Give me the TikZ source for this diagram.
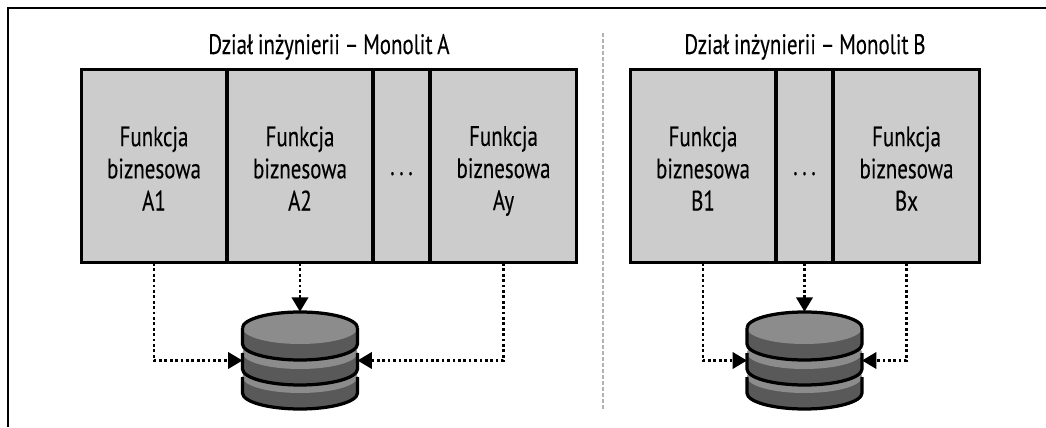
\documentclass[tikz,border=0pt]{standalone}
\usepackage{fontspec}
\setmainfont[FakeStretch=0.745,WordSpace=0.85,FakeBold=0.25]{PT Sans}
\usetikzlibrary{arrows.meta,positioning}
\definecolor{boxgray}{HTML}{CCCCCC}
\definecolor{dblight}{HTML}{8C8C8C}
\definecolor{dbdark}{HTML}{595959}
\newcommand{\funclabel}[1]{\rule{0pt}{0.584cm}Funkcja\\biznesowa\\\rule[-0.1cm]{0pt}{0.1cm}#1}
\newcommand{\funcdots}{\raisebox{-0.175cm}[0pt][0pt]{.\kern2.6pt.\kern2.6pt.}}
\tikzset{
  >={Triangle[length=0.29cm,width=0.33cm]},
  func/.style = {rectangle, draw, line width=0.06cm, fill=boxgray, minimum height=3.87cm,
    inner sep=0pt, outer sep=0pt, align=center, font=\fontsize{16}{18.3}\selectfont},
  head/.style = {anchor=base, inner sep=0pt, font=\fontsize{16}{18.3}\selectfont},
  dbnode/.style = {rectangle, minimum width=2.3cm, minimum height=1.95cm, inner sep=0pt, outer sep=0pt},
  dep/.style = {->, line width=0.055cm, dash pattern=on 0.055cm off 0.053cm},
  dbstack/.pic = {
    \foreach \dy in {-16.5,7.5,32.5} {
      \fill[dbdark] (-57.5,\dy) -- (-57.5,\dy-16) arc[start angle=180, end angle=360, x radius=57.5, y radius=16]
        -- (57.5,\dy) arc[start angle=0, end angle=180, x radius=57.5, y radius=16] -- cycle;
      \fill[dblight] (0,\dy) ellipse[x radius=57.5, y radius=16];
      \draw[line width=0.065cm, line join=round] (-57.5,\dy) -- (-57.5,\dy-16) arc[start angle=180, end angle=360, x radius=57.5, y radius=16]
        -- (57.5,\dy);
    }
    \draw[line width=0.065cm] (-57.5,32.5) arc[start angle=180, end angle=0, x radius=57.5, y radius=16];
  },
}
\begin{document}
\begin{tikzpicture}[x=0.02cm,y=0.02cm]
  \useasboundingbox (0,0) rectangle (1046,427);
  \draw[line width=0.055cm] (1046,419) -- (8,419) -- (8,0);
  \draw[gray!60, line width=0.03cm, dash pattern=on 0.08cm off 0.04cm] (603,394) -- (603,18);

  % monolit A
  \node[head] (headA) at (329,373) {Dział inżynierii – Monolit A};
  \node[func, minimum width=2.92cm] (a1) at (154,260.75) {\funclabel{A1}};
  \node[func, minimum width=2.92cm] (a2) at (300,260.75) {\funclabel{A2}};
  \node[func, minimum width=1.14cm] (adots) at (401.5,260.75) {\funcdots};
  \node[func, minimum width=2.94cm] (ay) at (503.5,260.75) {\funclabel{Ay}};
  \node[dbnode] (dbA) at (300,66.5) {};
  \pic at (dbA) {dbstack};
  \draw[dep] (a1) |- (dbA.west);
  \draw[dep] (a2) -- (dbA.north);
  \draw[dep] (ay) |- (dbA.east);

  % monolit B
  \node[head] (headB) at (805,373) {Dział inżynierii – Monolit B};
  \node[func, minimum width=2.92cm] (b1) at (703,260.75) {\funclabel{B1}};
  \node[func, minimum width=1.14cm] (bdots) at (804.5,260.75) {\funcdots};
  \node[func, minimum width=2.94cm] (bx) at (906.5,260.75) {\funclabel{Bx}};
  \node[dbnode] (dbB) at (804.5,66.5) {};
  \pic at (dbB) {dbstack};
  \draw[dep] (b1) |- (dbB.west);
  \draw[dep] (bdots) -- (dbB.north);
  \draw[dep] (bx) |- (dbB.east);
\end{tikzpicture}
\end{document}
